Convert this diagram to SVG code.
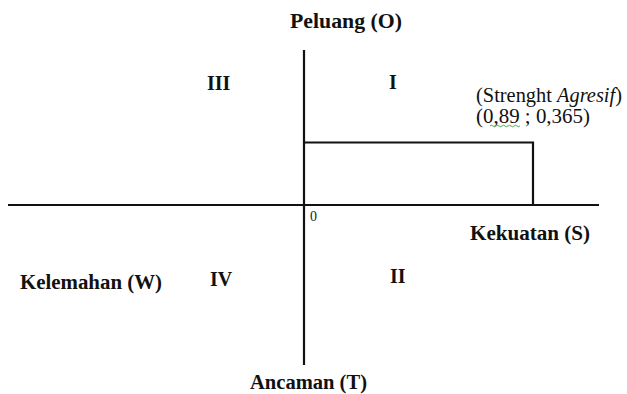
<svg xmlns="http://www.w3.org/2000/svg" width="627" height="394" viewBox="0 0 627 394">
<style>
.b{font-family:"Liberation Serif","Times New Roman",serif;font-weight:bold;font-size:20px;fill:#111}
.r{font-family:"Liberation Serif","Times New Roman",serif;font-size:20px;fill:#111}
.o{font-family:"Liberation Serif","Times New Roman",serif;font-size:14px;fill:#222}
.ax{stroke:#111;stroke-width:2.2;fill:none}
</style>
<rect width="627" height="394" fill="#fff"/>
<g id="connectors">
<line class="ax" x1="304" y1="50" x2="304" y2="365"/>
<line class="ax" x1="8" y1="205" x2="599" y2="205"/>
<polyline class="ax" points="304,142.5 533,142.5 533,205"/>
</g>
<g id="peluang"><text class="b" x="290" y="28" textLength="112" lengthAdjust="spacingAndGlyphs">Peluang (O)</text></g>
<g id="ancaman"><text class="b" x="250" y="389" textLength="117" lengthAdjust="spacingAndGlyphs">Ancaman (T)</text></g>
<g id="kekuatan"><text class="b" x="470" y="240" textLength="120" lengthAdjust="spacingAndGlyphs">Kekuatan (S)</text></g>
<g id="kelemahan"><text class="b" x="20" y="289" textLength="142" lengthAdjust="spacingAndGlyphs">Kelemahan (W)</text></g>
<g id="q1"><text class="b" x="389" y="89">I</text></g>
<g id="q2"><text class="b" x="390" y="283">II</text></g>
<g id="q3"><text class="b" x="207" y="90">III</text></g>
<g id="q4"><text class="b" x="210" y="286">IV</text></g>
<g id="origin"><text class="o" x="310" y="221">0</text></g>
<g id="point">
<text class="r" x="476" y="102" textLength="146" lengthAdjust="spacingAndGlyphs">(Strenght <tspan font-style="italic">Agresif</tspan>)</text>
<text class="r" x="476" y="123" textLength="114" lengthAdjust="spacingAndGlyphs">(0,89 ; 0,365)</text>
<path d="M490,126 q1.5,-1.5 3,0 t3,0 t3,0 t3,0 t3,0 t3,0 t3,0 t3,0 t3,0 t3,0" stroke="#3a3" stroke-width="0.9" fill="none"/>
</g>
</svg>
